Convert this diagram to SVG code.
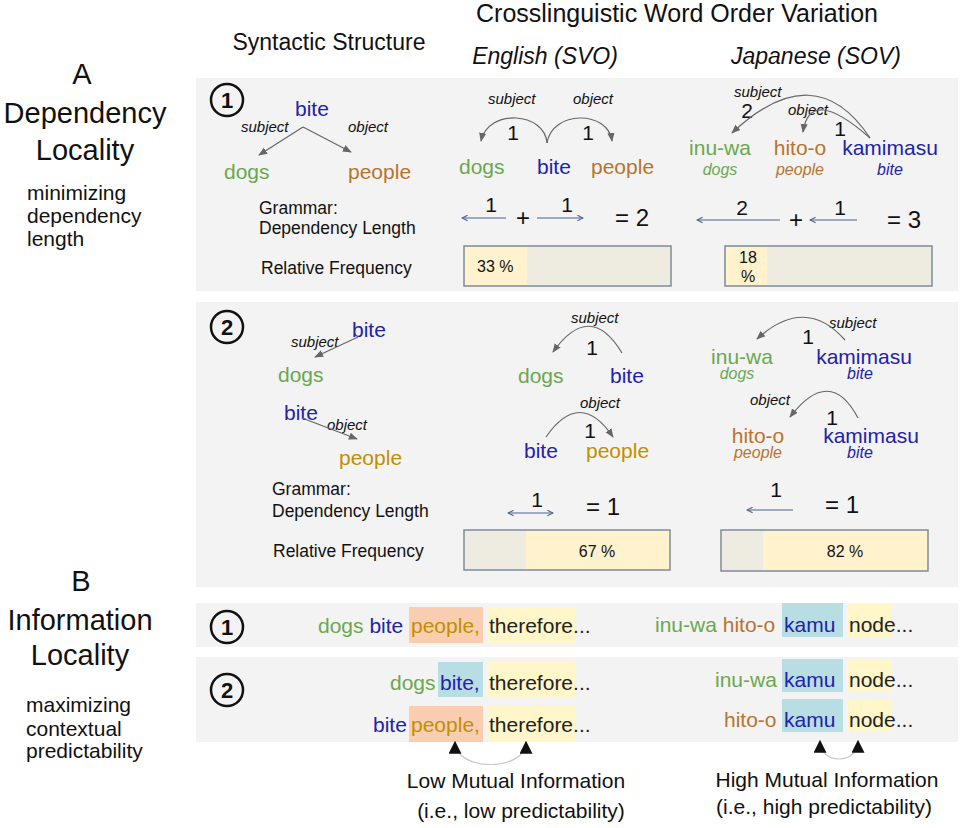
<svg xmlns="http://www.w3.org/2000/svg" width="961" height="828" viewBox="0 0 961 828">
<style>
text{font-family:"Liberation Sans",Arial,sans-serif;fill:#111}
.h{font-size:23px}
.hh{font-size:25px}
.hi{font-size:23px;font-style:italic}
.big{font-size:29px}
.sub{font-size:21px}
.w{font-size:21px}
.g{fill:#6aa84f}
.b{fill:#2222aa}
.o{fill:#b8742f}
.y{fill:#bf9000}
.dk{fill:#222}
.it{font-size:15px;font-style:italic}
.gl{font-size:16px;font-style:italic}
.lab{font-size:17.5px}
.n{font-size:21px}
.eq{font-size:24px}
.pc{font-size:16px}
.num{font-size:22px;font-weight:bold}
.circ{fill:none;stroke:#111;stroke-width:2.5}
.panel{fill:#f3f3f3}
.arc{fill:none;stroke:#666;stroke-width:1.2}
.dl{fill:none;stroke:#4a6290;stroke-width:1.2}
.barbg{fill:#eeebe1;stroke:#7f8c99;stroke-width:1.5}
.bary{fill:#fff2cc}
.sal{fill:#f9cdb0}
.cy{fill:#b8dde3}
.ye{fill:#fff6c9}
.mi{fill:none;stroke:#c8c8c8;stroke-width:1.2}
</style>
<defs>
<marker id="ag" viewBox="0 0 10 10" refX="9" refY="5" markerWidth="9" markerHeight="9" markerUnits="userSpaceOnUse" orient="auto-start-reverse"><path d="M0,1 L10,5 L0,9 z" fill="#666"/></marker>
<marker id="ab" viewBox="0 0 10 10" refX="9" refY="5" markerWidth="7" markerHeight="7" markerUnits="userSpaceOnUse" orient="auto-start-reverse"><path d="M1,1 L9,5 L1,9" fill="none" stroke="#4a6290" stroke-width="1.5"/></marker>
<marker id="ak" viewBox="0 0 10 10" refX="9" refY="5" markerWidth="13" markerHeight="13" markerUnits="userSpaceOnUse" orient="auto-start-reverse"><path d="M0,0 L10,5 L0,10 z" fill="#111"/></marker>
</defs>
<rect width="961" height="828" fill="#fff"/>

<g id="headers">
<text class="hh" x="677" y="22" text-anchor="middle">Crosslinguistic Word Order Variation</text>
<text class="h" x="329" y="50" text-anchor="middle">Syntactic Structure</text>
<text class="hi" x="545" y="64" text-anchor="middle">English (SVO)</text>
<text class="hi" x="816" y="64" text-anchor="middle">Japanese (SOV)</text>
</g>

<g id="label-a">
<text class="big" x="82" y="84" text-anchor="middle">A</text>
<text class="big" x="85" y="123" text-anchor="middle">Dependency</text>
<text class="big" x="85" y="160" text-anchor="middle">Locality</text>
<text class="sub" x="27" y="200">minimizing</text>
<text class="sub" x="27" y="223">dependency</text>
<text class="sub" x="27" y="246">length</text>
</g>

<g id="label-b">
<text class="big" x="81" y="591" text-anchor="middle">B</text>
<text class="big" x="80" y="630" text-anchor="middle">Information</text>
<text class="big" x="80" y="665" text-anchor="middle">Locality</text>
<text class="sub" x="26" y="712">maximizing</text>
<text class="sub" x="26" y="736">contextual</text>
<text class="sub" x="26" y="758">predictability</text>
</g>

<g id="panels">
<rect class="panel" x="196" y="78" width="762" height="213"/>
<rect class="panel" x="196" y="302" width="762" height="285"/>
<rect class="panel" x="196" y="603" width="762" height="44"/>
<rect class="panel" x="196" y="657" width="762" height="85"/>
</g>

<g id="a1-syntax">
<circle class="circ" cx="227" cy="100" r="16"/>
<text class="num" x="227" y="108" text-anchor="middle">1</text>
<text class="w b" x="295" y="116">bite</text>
<text class="it" x="241" y="132">subject</text>
<text class="it" x="348" y="132">object</text>
<text class="w g" x="224" y="179">dogs</text>
<text class="w o" x="348" y="179">people</text>
<text class="lab" x="259" y="214">Grammar:</text>
<text class="lab" x="259" y="234">Dependency Length</text>
<text class="lab" x="261" y="274">Relative Frequency</text>
</g>

<g id="a1-english">
<text class="it" x="488" y="104">subject</text>
<text class="it" x="573" y="104">object</text>
<text class="n" x="513" y="140" text-anchor="middle">1</text>
<text class="n" x="588" y="140" text-anchor="middle">1</text>
<text class="w g" x="459" y="174">dogs</text>
<text class="w b" x="537" y="174">bite</text>
<text class="w o" x="591" y="174">people</text>
<text class="n" x="491" y="212" text-anchor="middle">1</text>
<text class="eq" x="523" y="226" text-anchor="middle">+</text>
<text class="n" x="567" y="212" text-anchor="middle">1</text>
<text class="eq" x="615" y="226">= 2</text>
<rect class="barbg" x="464" y="246" width="207" height="40"/>
<rect class="bary" x="465" y="247" width="62" height="38"/>
<text class="pc" x="477" y="272">33 %</text>
</g>

<g id="a1-japanese">
<text class="it" x="734" y="97">subject</text>
<text class="n" x="747" y="118" text-anchor="middle">2</text>
<text class="it" x="788" y="115">object</text>
<text class="n" x="840" y="136" text-anchor="middle">1</text>
<text class="w g" x="720" y="155" text-anchor="middle">inu-wa</text>
<text class="w o" x="800" y="155" text-anchor="middle">hito-o</text>
<text class="w b" x="890" y="155" text-anchor="middle">kamimasu</text>
<text class="gl g" x="720" y="175" text-anchor="middle">dogs</text>
<text class="gl o" x="800" y="175" text-anchor="middle">people</text>
<text class="gl b" x="890" y="175" text-anchor="middle">bite</text>
<text class="n" x="742" y="215" text-anchor="middle">2</text>
<text class="eq" x="796" y="228" text-anchor="middle">+</text>
<text class="n" x="840" y="215" text-anchor="middle">1</text>
<text class="eq" x="887" y="228">= 3</text>
<rect class="barbg" x="725" y="246" width="207" height="40"/>
<rect class="bary" x="726" y="247" width="41" height="38"/>
<text class="pc" x="748" y="263" text-anchor="middle">18</text>
<text class="pc" x="748" y="282" text-anchor="middle">%</text>
</g>

<g id="a2-syntax">
<circle class="circ" cx="227" cy="327" r="16"/>
<text class="num" x="227" y="335" text-anchor="middle">2</text>
<text class="w b" x="352" y="337">bite</text>
<text class="it" x="291" y="347">subject</text>
<text class="w g" x="278" y="382">dogs</text>
<text class="w b" x="284" y="420">bite</text>
<text class="it" x="327" y="430">object</text>
<text class="w y" x="339" y="465">people</text>
<text class="lab" x="272" y="495">Grammar:</text>
<text class="lab" x="272" y="517">Dependency Length</text>
<text class="lab" x="273" y="557">Relative Frequency</text>
</g>

<g id="a2-english">
<text class="it" x="571" y="323">subject</text>
<text class="n" x="592" y="355" text-anchor="middle">1</text>
<text class="w g" x="518" y="383">dogs</text>
<text class="w b" x="610" y="383">bite</text>
<text class="it" x="580" y="408">object</text>
<text class="n" x="590" y="438" text-anchor="middle">1</text>
<text class="w b" x="524" y="458">bite</text>
<text class="w y" x="586" y="458">people</text>
<text class="n" x="537" y="507" text-anchor="middle">1</text>
<text class="eq" x="586" y="515">= 1</text>
<rect class="barbg" x="464" y="530" width="206" height="40"/>
<rect class="bary" x="526" y="531" width="143" height="38"/>
<text class="pc" x="597" y="557" text-anchor="middle">67 %</text>
</g>

<g id="a2-japanese">
<text class="it" x="829" y="328">subject</text>
<text class="n" x="808" y="344" text-anchor="middle">1</text>
<text class="w g" x="742" y="364" text-anchor="middle">inu-wa</text>
<text class="gl g" x="737" y="379" text-anchor="middle">dogs</text>
<text class="w b" x="864" y="364" text-anchor="middle">kamimasu</text>
<text class="gl b" x="860" y="379" text-anchor="middle">bite</text>
<text class="it" x="750" y="405">object</text>
<text class="n" x="832" y="425" text-anchor="middle">1</text>
<text class="w o" x="758" y="443" text-anchor="middle">hito-o</text>
<text class="gl o" x="758" y="458" text-anchor="middle">people</text>
<text class="w b" x="871" y="443" text-anchor="middle">kamimasu</text>
<text class="gl b" x="860" y="458" text-anchor="middle">bite</text>
<text class="n" x="776" y="497" text-anchor="middle">1</text>
<text class="eq" x="825" y="513">= 1</text>
<rect class="barbg" x="721" y="530" width="207" height="41"/>
<rect class="bary" x="763" y="531" width="164" height="39"/>
<text class="pc" x="845" y="557" text-anchor="middle">82 %</text>
</g>

<g id="b1-english">
<circle class="circ" cx="227" cy="627" r="16"/>
<text class="num" x="227" y="635" text-anchor="middle">1</text>
<rect class="sal" x="409" y="607" width="74" height="36"/>
<rect class="ye" x="487" y="607" width="88" height="36"/>
<text class="w" x="318" y="633"><tspan class="g">dogs</tspan> <tspan class="b">bite</tspan></text>
<text class="w y" x="411" y="633">people,</text>
<text class="w dk" x="489" y="633">therefore...</text>
</g>

<g id="b1-japanese">
<rect class="cy" x="782" y="603" width="61" height="34"/>
<rect class="ye" x="847" y="603" width="45" height="34"/>
<text class="w" x="655" y="632"><tspan class="g">inu-wa</tspan> <tspan class="o">hito-o</tspan></text>
<text class="w b" x="784" y="632">kamu</text>
<text class="w dk" x="849" y="632">node...</text>
</g>

<g id="b2-english">
<circle class="circ" cx="227" cy="690" r="16"/>
<text class="num" x="227" y="698" text-anchor="middle">2</text>
<rect class="cy" x="438" y="662" width="45" height="35"/>
<rect class="ye" x="487" y="662" width="88" height="35"/>
<text class="w g" x="390" y="690">dogs</text>
<text class="w b" x="440" y="690">bite,</text>
<text class="w dk" x="489" y="690">therefore...</text>
<rect class="sal" x="409" y="706" width="74" height="36"/>
<rect class="ye" x="487" y="706" width="88" height="36"/>
<text class="w b" x="373" y="732">bite</text>
<text class="w y" x="411" y="732">people,</text>
<text class="w dk" x="489" y="732">therefore...</text>
</g>

<g id="b2-japanese">
<rect class="cy" x="782" y="659" width="61" height="33"/>
<rect class="ye" x="847" y="659" width="45" height="33"/>
<text class="w g" x="715" y="687">inu-wa</text>
<text class="w b" x="784" y="687">kamu</text>
<text class="w dk" x="849" y="687">node...</text>
<rect class="cy" x="782" y="699" width="61" height="33"/>
<rect class="ye" x="847" y="699" width="45" height="33"/>
<text class="w o" x="724" y="727">hito-o</text>
<text class="w b" x="784" y="727">kamu</text>
<text class="w dk" x="849" y="727">node...</text>
</g>

<g id="mi-labels">
<text class="sub" x="516" y="788" text-anchor="middle">Low Mutual Information</text>
<text class="sub" x="521" y="818" text-anchor="middle">(i.e., low predictability)</text>
<text class="sub" x="827" y="787" text-anchor="middle">High Mutual Information</text>
<text class="sub" x="824" y="814" text-anchor="middle">(i.e., high predictability)</text>
</g>

<g id="connectors">
<line class="arc" x1="303" y1="127" x2="259" y2="155" marker-end="url(#ag)"/>
<line class="arc" x1="303" y1="127" x2="351" y2="152" marker-end="url(#ag)"/>
<path class="arc" d="M547,143 C545,112 488,108 481,141" marker-end="url(#ag)"/>
<path class="arc" d="M547,143 C552,110 608,110 612,141" marker-end="url(#ag)"/>
<path class="arc" d="M870,138 Q815,55 732,133" marker-end="url(#ag)"/>
<path class="arc" d="M870,138 Q810,85 803,132" marker-end="url(#ag)"/>
<line class="dl" x1="506" y1="218" x2="462" y2="218" marker-end="url(#ab)"/>
<line class="dl" x1="537" y1="218" x2="583" y2="218" marker-end="url(#ab)"/>
<line class="dl" x1="780" y1="220" x2="697" y2="220" marker-end="url(#ab)"/>
<line class="dl" x1="857" y1="220" x2="810" y2="220" marker-end="url(#ab)"/>
<line class="arc" x1="358" y1="337" x2="315" y2="357" marker-end="url(#ag)"/>
<line class="arc" x1="302" y1="418" x2="357" y2="439" marker-end="url(#ag)"/>
<path class="arc" d="M622,353 Q590,300 553,352" marker-end="url(#ag)"/>
<path class="arc" d="M546,437 Q580,388 613,437" marker-end="url(#ag)"/>
<path class="arc" d="M845,340 Q805,295 757,339" marker-end="url(#ag)"/>
<path class="arc" d="M858,418 Q830,365 790,417" marker-end="url(#ag)"/>
<line class="dl" x1="508" y1="513" x2="553" y2="513" marker-start="url(#ab)" marker-end="url(#ab)"/>
<line class="dl" x1="793" y1="510" x2="747" y2="510" marker-end="url(#ab)"/>
<path class="mi" d="M455,742 C455,772 526,772 526,742" marker-start="url(#ak)" marker-end="url(#ak)"/>
<path class="mi" d="M820,741 C820,765 858,765 858,741" marker-start="url(#ak)" marker-end="url(#ak)"/>
</g>
</svg>
